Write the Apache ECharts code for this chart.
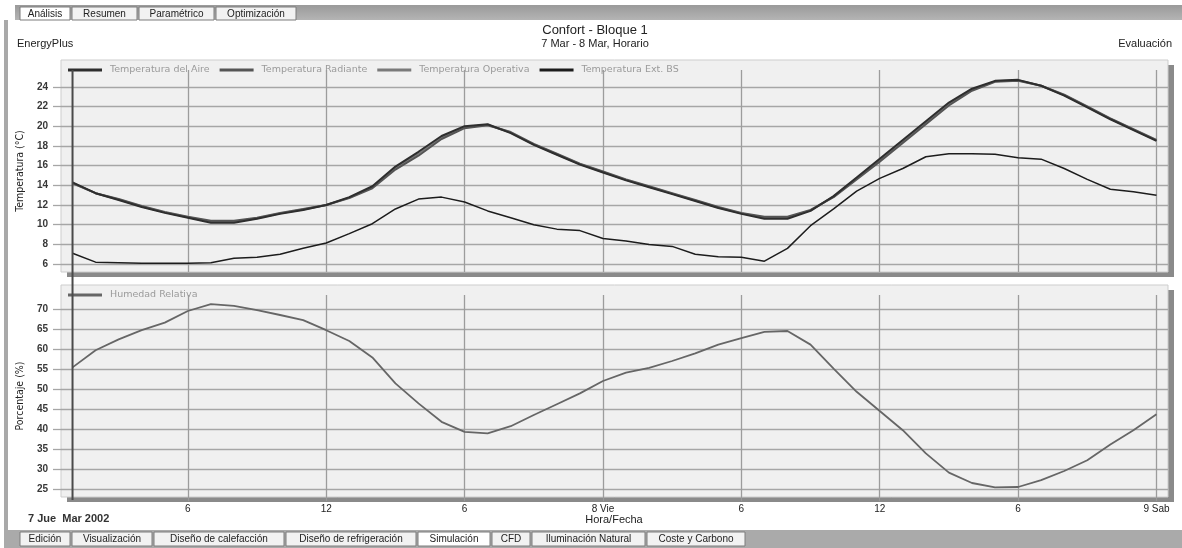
<!DOCTYPE html>
<html><head><meta charset="utf-8">
<script src="https://cdn.jsdelivr.net/npm/echarts@6/dist/echarts.min.js"></script>
<style>html,body{margin:0;padding:0;background:#fff}#c{width:1182px;height:548px}</style>
</head><body><div id="c"></div><script>
// ---- data ----
const hours = [1,2,3,4,5,6,7,8,9,10,11,12,13,14,15,16,17,18,19,20,21,22,23,24,25,26,27,28,29,30,31,32,33,34,35,36,37,38,39,40,41,42,43,44,45,46,47,48];
const tempAire = [14.3,13.2,12.5,11.8,11.2,10.7,10.2,10.2,10.6,11.1,11.5,12.0,12.8,13.9,15.9,17.4,19.0,20.0,20.2,19.3,18.1,17.1,16.1,15.3,14.5,13.8,13.1,12.4,11.7,11.1,10.6,10.6,11.4,12.9,14.8,16.7,18.6,20.5,22.4,23.8,24.6,24.7,24.1,23.1,21.9,20.7,19.6,18.5];
const tempRadiante = [14.2,13.2,12.6,11.9,11.3,10.8,10.4,10.4,10.7,11.2,11.6,12.0,12.7,13.7,15.6,17.0,18.7,19.8,20.1,19.4,18.2,17.2,16.2,15.4,14.6,13.9,13.2,12.5,11.8,11.2,10.8,10.8,11.5,12.8,14.6,16.4,18.3,20.2,22.1,23.6,24.5,24.6,24.1,23.2,22.0,20.8,19.7,18.6];
const tempOperativa = [14.25,13.2,12.55,11.85,11.25,10.75,10.3,10.3,10.65,11.15,11.55,12.0,12.75,13.8,15.75,17.2,18.85,19.9,20.15,19.35,18.15,17.15,16.15,15.35,14.55,13.85,13.15,12.45,11.75,11.15,10.7,10.7,11.45,12.85,14.7,16.55,18.45,20.35,22.25,23.7,24.55,24.65,24.1,23.15,21.95,20.75,19.65,18.55];
const tempExtBS = [7.1,6.2,6.15,6.1,6.1,6.1,6.15,6.6,6.7,7.0,7.6,8.15,9.1,10.1,11.6,12.6,12.8,12.3,11.4,10.7,10.0,9.55,9.4,8.6,8.35,8.0,7.8,7.0,6.75,6.7,6.3,7.6,9.9,11.6,13.4,14.7,15.7,16.9,17.2,17.2,17.15,16.8,16.65,15.7,14.6,13.6,13.35,13.0];
const humedad = [55.5,59.8,62.5,64.8,66.7,69.6,71.3,70.9,69.8,68.6,67.3,64.8,62.1,58.0,51.5,46.5,41.9,39.4,39.0,40.8,43.6,46.3,49.0,52.1,54.2,55.4,57.1,59.0,61.2,62.8,64.4,64.6,61.2,55.2,49.4,44.6,39.8,34.0,29.2,26.6,25.5,25.6,27.3,29.6,32.3,36.2,39.8,43.8];
const xTickValues = [6,12,18,24,30,36,42,48];
const xTickLabels = ['6','12','6','8 Vie','6','12','6','9 Sab'];
const tempTicks = [6,8,10,12,14,16,18,20,22,24];
const humTicks = [25,30,35,40,45,50,55,60,65,70];
const cursorHour = 1;

// ---- layout/style ----
const FONT = '"Liberation Sans", Arial, sans-serif';
const NARROW = '"Liberation Sans Narrow", "DejaVu Sans Condensed", sans-serif';
const topTabs = [['Análisis',20,70,true],['Resumen',72,137],['Paramétrico',139,214],['Optimización',216,296]];
const bottomTabs = [['Edición',20,70],['Visualización',72,152],['Diseño de calefacción',154,284],['Diseño de refrigeración',286,416],['Simulación',418,490,true],['CFD',492,530],['Iluminación Natural',532,645],['Coste y Carbono',647,745]];

const pts = arr => hours.map((h,i)=>[h,arr[i]]);
const gfx = [];
gfx.push({type:'rect',z:-20,shape:{x:15,y:5,width:1167,height:15},style:{fill:new echarts.graphic.LinearGradient(0,0,0,1,[{offset:0,color:'#9a9a9a'},{offset:1,color:'#b4b4b4'}])}});
gfx.push({type:'rect',z:-20,shape:{x:4,y:20,width:4,height:512},style:{fill:'#a9a9a9'}});
gfx.push({type:'rect',z:-20,shape:{x:4,y:530,width:1178,height:18},style:{fill:'#aaaaaa'}});
function tabs(list,y,h){
  list.forEach(t=>{
    gfx.push({type:'rect',z:5,shape:{x:t[1],y:y,width:t[2]-t[1],height:h},style:{fill:t[3]?'#ffffff':'#f2f2f2',stroke:'#7c7c7c',lineWidth:1}});
    gfx.push({type:'text',z:6,style:{text:t[0],x:(t[1]+t[2])/2,y:y+h/2+0.5,align:'center',verticalAlign:'middle',font:'10px '+FONT,fill:'#222'}});
  });
}
tabs(topTabs,7,13);
tabs(bottomTabs,532,14);
function plotBg(y0,h){
  gfx.push({type:'rect',z:-12,shape:{x:67,y:y0+5,width:1107,height:h},style:{fill:'#8a8a8a'}});
  gfx.push({type:'rect',z:-11,shape:{x:61,y:y0,width:1107,height:h},style:{fill:'#f0f0f0',stroke:'#cdcdcd',lineWidth:1}});
}
plotBg(60,212);
plotBg(285,212);
gfx.push({type:'text',z:6,style:{text:'Confort - Bloque 1',x:595,y:30,align:'center',verticalAlign:'middle',font:'13px '+FONT,fill:'#222'}});
gfx.push({type:'text',z:6,style:{text:'7 Mar - 8 Mar, Horario',x:595,y:44,align:'center',verticalAlign:'middle',font:'11px '+FONT,fill:'#222'}});
gfx.push({type:'text',z:6,style:{text:'EnergyPlus',x:17,y:44,align:'left',verticalAlign:'middle',font:'11px '+FONT,fill:'#222'}});
gfx.push({type:'text',z:6,style:{text:'Evaluación',x:1172,y:44,align:'right',verticalAlign:'middle',font:'11px '+FONT,fill:'#222'}});
gfx.push({type:'text',z:6,style:{text:'Hora/Fecha',x:614,y:520,align:'center',verticalAlign:'middle',font:'11px '+FONT,fill:'#222'}});
gfx.push({type:'text',z:6,style:{text:'7 Jue  Mar 2002',x:28,y:519,align:'left',verticalAlign:'middle',font:'bold 11px '+FONT,fill:'#333'}});

function xAx(i,labels){
  return {type:'value',gridIndex:i,min:0.5,max:48.5,
    axisLine:{show:false},
    axisTick:{show:labels,customValues:xTickValues,length:4,lineStyle:{color:'#999'}},
    axisLabel:{show:labels,customValues:xTickValues,margin:7,color:'#222',fontSize:10,fontFamily:FONT,
      formatter:v=>{const k=xTickValues.indexOf(v);return k<0?'':xTickLabels[k];}},
    splitLine:{show:true,lineStyle:{color:'#9c9c9c',width:1.3}}};
}
function yAx(i,min,max,ticks,name){
  return {type:'value',gridIndex:i,min:min,max:max,name:name,nameLocation:'middle',nameGap:34,
    nameTextStyle:{fontFamily:NARROW,fontSize:10.5,color:'#222'},
    axisLine:{show:false},
    axisTick:{show:true,customValues:ticks,length:8,lineStyle:{color:'#a6a6a6',width:1.3}},
    axisLabel:{customValues:ticks,margin:13,color:'#383838',fontSize:10,fontWeight:'bold',fontFamily:FONT},
    splitLine:{show:true,lineStyle:{color:'#a6a6a6',width:1.3}}};
}
const lineS = (name,data,color,w,xi)=>({type:'line',name:name,data:pts(data),xAxisIndex:xi,yAxisIndex:xi,
  symbol:'none',color:color,lineStyle:{color:color,width:w},animation:false});

const chart = echarts.init(document.getElementById('c'),null,{renderer:'canvas'});
const legendText = {fontFamily:'"DejaVu Sans", sans-serif',fontSize:9.5,color:'#9a9a9a',padding:[0,0,0,3]};
chart.setOption({
  backgroundColor:'#ffffff',
  animation:false,
  grid:[{left:61,right:14,top:70,height:202},{left:61,right:14,top:295,height:202}],
  legend:[
    {left:63,top:60,itemWidth:34,itemHeight:3,itemGap:10,icon:'rect',textStyle:legendText,
     data:['Temperatura del Aire','Temperatura Radiante','Temperatura Operativa','Temperatura Ext. BS']},
    {left:63,top:285,itemWidth:34,itemHeight:3,itemGap:10,icon:'rect',textStyle:legendText,data:['Humedad Relativa']}
  ],
  xAxis:[xAx(0,false),xAx(1,true)],
  yAxis:[yAx(0,5.2,25.7,tempTicks,'Temperatura (°C)'),yAx(1,23.1,73.6,humTicks,'Porcentaje (%)')],
  series:[
    lineS('Temperatura Ext. BS',tempExtBS,'#1c1c1c',1.5,0),
    lineS('Temperatura Operativa',tempOperativa,'#7a7a7a',2,0),
    lineS('Temperatura Radiante',tempRadiante,'#555555',2,0),
    lineS('Temperatura del Aire',tempAire,'#2e2e2e',2,0),
    lineS('Humedad Relativa',humedad,'#666666',1.8,1)
  ],
  graphic:{elements:gfx}
});
const cx = chart.convertToPixel({xAxisIndex:0},cursorHour);
chart.setOption({graphic:{elements:[{id:'cursor',type:'line',z:8,shape:{x1:cx,y1:70,x2:cx,y2:500},style:{stroke:'#4a4a4a',lineWidth:2}}]}});
</script></body></html>
